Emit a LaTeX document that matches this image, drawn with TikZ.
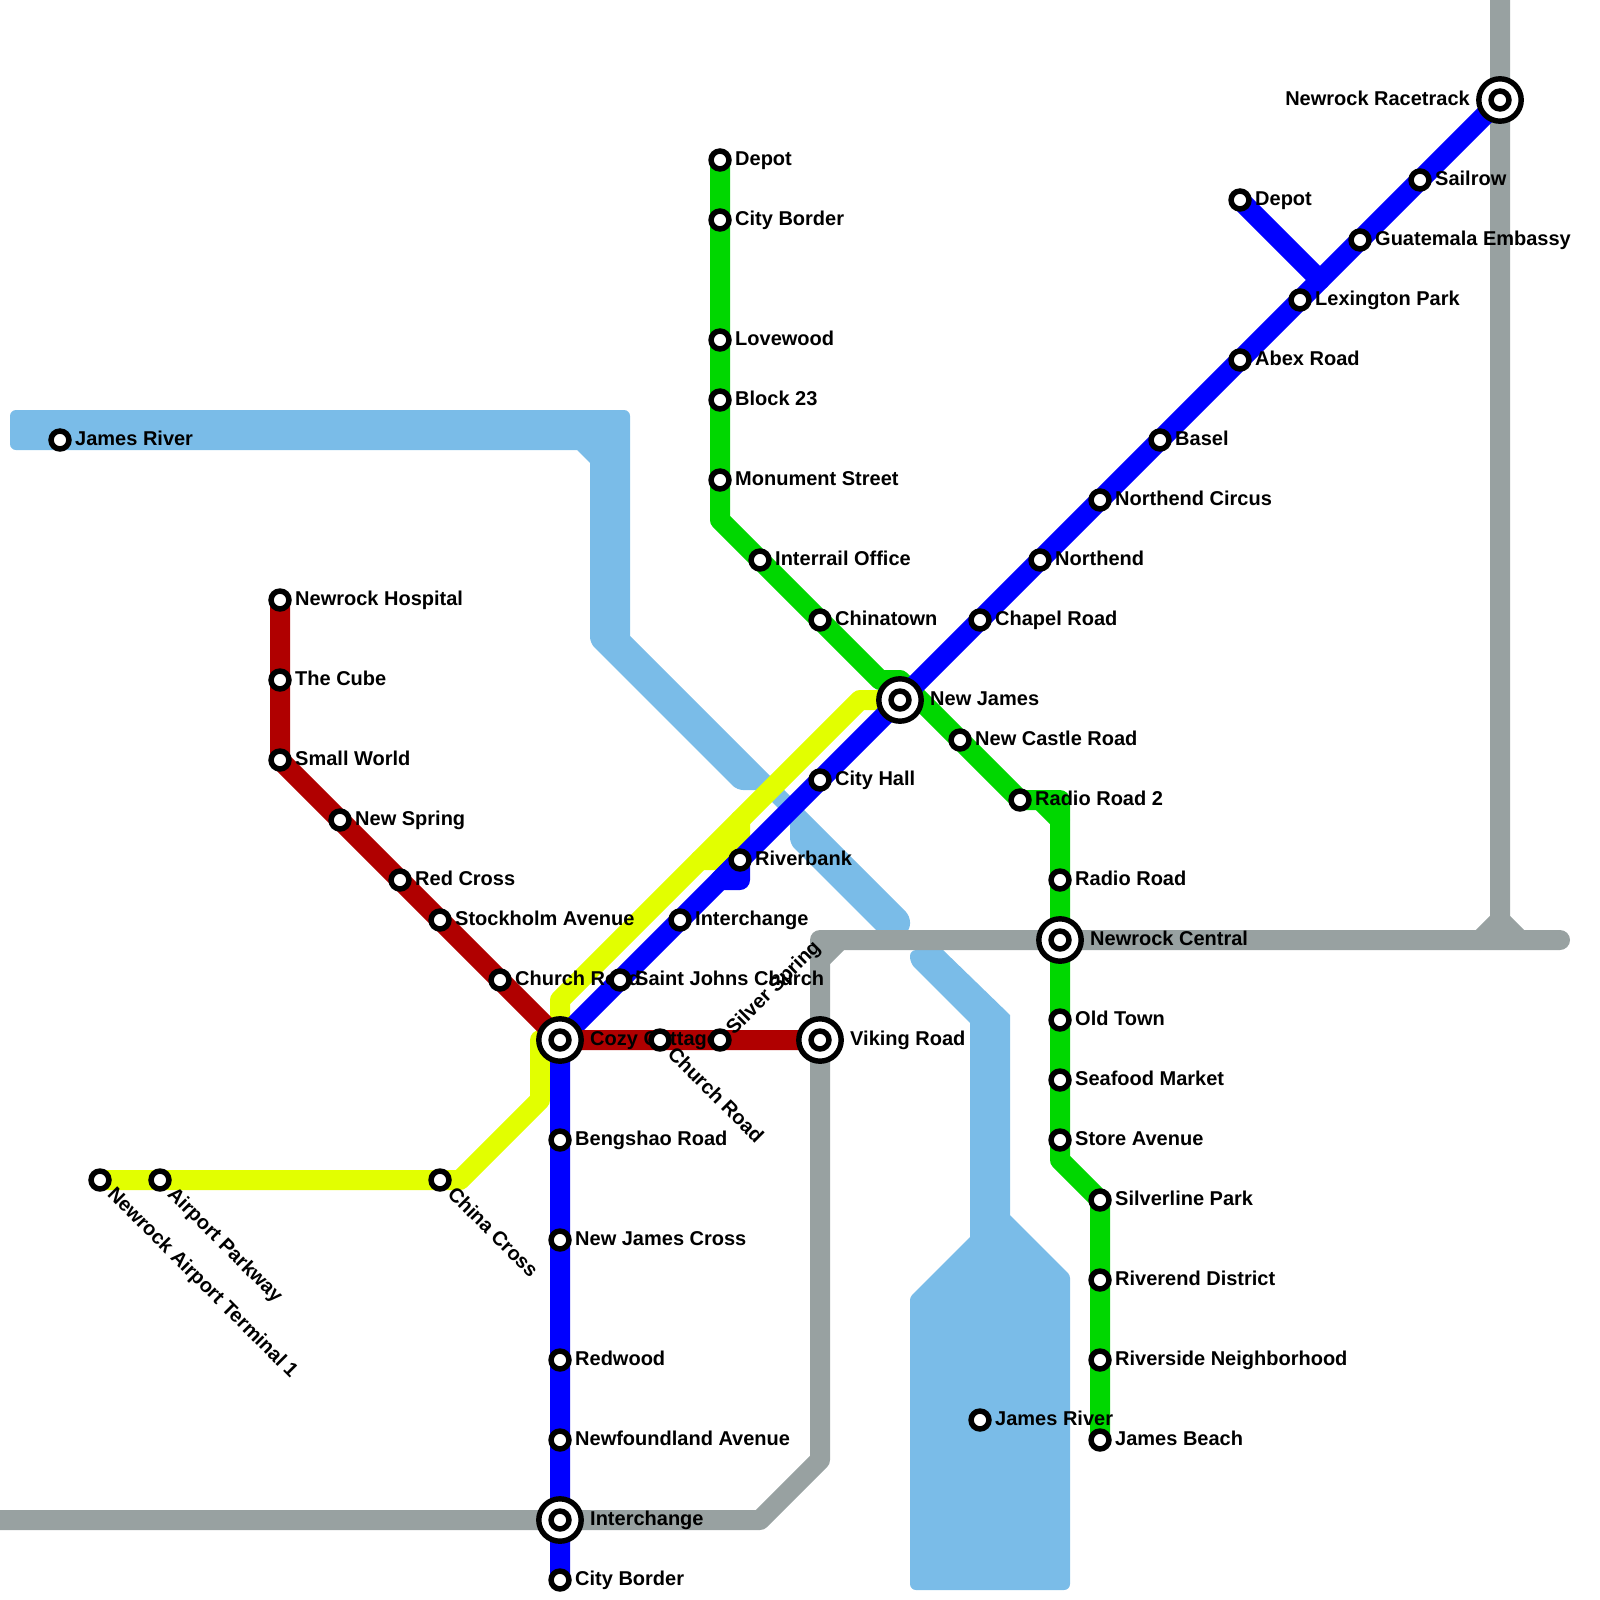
\documentclass[tikz,border=0pt]{standalone}
\usepackage{fontspec}
\setmainfont{Liberation Sans}
\definecolor{cwater}{HTML}{7ABCE8}
\definecolor{cgrey}{HTML}{98A1A1}
\definecolor{cgreen}{HTML}{00D700}
\definecolor{cred}{HTML}{B00000}
\definecolor{cyellow}{HTML}{E2FF00}
\definecolor{cblue}{HTML}{0000FF}
\pgfdeclarelayer{lines}
\pgfdeclarelayer{labels}
\pgfsetlayers{lines,labels,main}
\tikzset{
  x=1pt,y=-1pt,
  stn/.style={circle,draw=black,fill=white,line width=5.5pt,minimum size=17.9pt,inner sep=0pt,outer sep=0pt},
  hub/.style={circle,draw=black,fill=white,line width=5.4pt,minimum size=42.4pt,inner sep=0pt,outer sep=0pt},
  lbl/.style={font=\fontsize{20pt}{21pt}\selectfont\bfseries,text=black,inner sep=0pt,anchor=base west},
  route/.style={line width=20pt,line cap=round,line join=round},
  waterarea/.style={fill=cwater,draw=none},
}
% station with a label to the right: \st{name}{x}{y}{text}
\newcommand{\st}[4]{%
  \node[stn] (#1) at (#2,#3) {};
  \begin{pgfonlayer}{labels}\node[lbl] (#1L) at (#2+15,#3+5.2) {#4};\end{pgfonlayer}}
% interchange with a label to the right
\newcommand{\hb}[4]{%
  \node[hub] (#1H) at (#2,#3) {};
  \node[stn] (#1) at (#2,#3) {};
  \begin{pgfonlayer}{labels}\node[lbl] (#1L) at (#2+30,#3+5.2) {#4};\end{pgfonlayer}}
% station with a rotated label
\newcommand{\stdown}[4]{%
  \node[stn] (#1) at (#2,#3) {};
  \begin{pgfonlayer}{labels}\node[lbl,rotate=-45] (#1L) at (#2+6.5,#3+15) {#4};\end{pgfonlayer}}
\newcommand{\stup}[4]{%
  \node[stn] (#1) at (#2,#3) {};
  \begin{pgfonlayer}{labels}\node[lbl,rotate=45] (#1L) at (#2+14,#3-4.2) {#4};\end{pgfonlayer}}
\begin{document}
\begin{tikzpicture}
\useasboundingbox (0,0) rectangle (1600,1600);
% green
\st{gDepot}{720}{160}{Depot}
\st{gCity}{720}{220}{City Border}
\st{gLove}{720}{340}{Lovewood}
\st{gBlock}{720}{400}{Block 23}
\st{gMon}{720}{480}{Monument Street}
\st{gInter}{760}{560}{Interrail Office}
\st{gChina}{820}{620}{Chinatown}
\st{gCastle}{960}{740}{New Castle Road}
\st{gRadB}{1020}{800}{Radio Road 2}
\st{gRad}{1060}{880}{Radio Road}
\st{gOld}{1060}{1020}{Old Town}
\st{gSea}{1060}{1080}{Seafood Market}
\st{gStore}{1060}{1140}{Store Avenue}
\st{gSilver}{1100}{1200}{Silverline Park}
\st{gRiver}{1100}{1280}{Riverend District}
\st{gSide}{1100}{1360}{Riverside Neighborhood}
\st{gBeach}{1100}{1440}{James Beach}
% blue
\st{bBorder}{560}{1580}{City Border}
\st{bNewf}{560}{1440}{Newfoundland Avenue}
\st{bRed}{560}{1360}{Redwood}
\st{bCross}{560}{1240}{New James Cross}
\st{bBeng}{560}{1140}{Bengshao Road}
\st{bSaint}{620}{980}{Saint Johns Church}
\st{bInter}{680}{920}{Interchange}
\st{bBank}{740}{860}{Riverbank}
\st{bHall}{820}{780}{City Hall}
\st{bChap}{980}{620}{Chapel Road}
\st{bNorth}{1040}{560}{Northend}
\st{bCirc}{1100}{500}{Northend Circus}
\st{bBasel}{1160}{440}{Basel}
\st{bAbex}{1240}{360}{Abex Road}
\st{bLex}{1300}{300}{Lexington Park}
\st{bGuat}{1360}{240}{Guatemala Embassy}
\st{bSail}{1420}{180}{Sailrow}
\st{bDepot}{1240}{200}{Depot}
% red
\st{rHosp}{280}{600}{Newrock Hospital}
\st{rCube}{280}{680}{The Cube}
\st{rWorld}{280}{760}{Small World}
\st{rSpring}{340}{820}{New Spring}
\st{rCross}{400}{880}{Red Cross}
\st{rStock}{440}{920}{Stockholm Avenue}
\st{rChurch}{500}{980}{Church Road}
\stdown{rChurchB}{660}{1040}{Church Road}
\stup{rSilver}{720}{1040}{Silver Spring}
% yellow
\stdown{yTerm}{100}{1180}{Newrock Airport Terminal 1}
\stdown{yPark}{160}{1180}{Airport Parkway}
\stdown{yChina}{440}{1180}{China Cross}
% water stations
\st{wRiverA}{60}{440}{James River}
\st{wRiverB}{980}{1420}{James River}
% interchanges
\hb{hCozy}{560}{1040}{Cozy Cottage}
\hb{hJames}{900}{700}{New James}
\hb{hCentral}{1060}{940}{Newrock Central}
\hb{hViking}{820}{1040}{Viking Road}
\hb{hInter}{560}{1520}{Interchange}
\node[hub] (hRaceH) at (1500,100) {};
\node[stn] (hRace) at (1500,100) {};
\begin{pgfonlayer}{labels}\node[lbl,anchor=base east] (hRaceL) at (1470,105.2) {Newrock Racetrack};\end{pgfonlayer}
% free bend points
\coordinate (gA) at (720,520);
\coordinate (gB) at (880,680);
\coordinate (gC) at (900,680);
\coordinate (gD) at (1040,800);
\coordinate (gE) at (1060,800);
\coordinate (gF) at (1060,820);
\coordinate (gG) at (1060,1160);
\coordinate (eL) at (-15,1520);
\coordinate (eA) at (760,1520);
\coordinate (eB) at (820,1460);
\coordinate (eC) at (820,960);
\coordinate (eD) at (820,940);
\coordinate (eE) at (840,940);
\coordinate (eF) at (1560,940);
\coordinate (eT) at (1500,-15);
\coordinate (eU) at (1500,920);
\coordinate (eV) at (1480,940);
\coordinate (eW) at (1520,940);
\coordinate (bJ) at (1320,280);
\coordinate (bK) at (740,880);
\coordinate (bM) at (720,880);
\coordinate (yA) at (460,1180);
\coordinate (yB) at (540,1100);
\coordinate (yC) at (540,1040);
\coordinate (yD) at (560,1000);
\coordinate (yE) at (860,700);
\coordinate (yF) at (700,860);
\coordinate (yG) at (720,860);
\coordinate (yH) at (740,840);
\coordinate (yI) at (740,820);
\begin{pgfonlayer}{lines}
% water: a corner takes the setting in force on the segment that arrives at it
\fill[waterarea,rounded corners=6pt] (10,430) -- (10,410) -- (630,410) [sharp corners] -- (630,636) [rounded corners=6pt] -- (910,916) -- (910,930) -- (897,940) -- (886,940) -- (790,844) [sharp corners] -- (790,820) -- (760,790) [rounded corners=6pt] -- (737,790) -- (590,643) [sharp corners] -- (590,463) -- (577,450) [rounded corners=6pt] -- (10,450) -- cycle;
\fill[waterarea,sharp corners] (943,950) -- (1010,1015) -- (1010,1215) [rounded corners=3pt] -- (1070,1275) [rounded corners=6pt] -- (1070,1590) -- (910,1590) [rounded corners=3pt] -- (910,1297) [sharp corners] -- (970,1237) -- (970,1023) [rounded corners=6pt] -- (910,963) -- (910,950) [sharp corners] -- cycle;
% grey
\draw[route,cgrey] (eL) -- (hInter.center) -- (eA) -- (eB) -- (hViking.center) -- (eC) -- (eD) -- (eE) -- (hCentral.center) -- (eF);
\draw[route,cgrey] (eC) -- (eE);
\draw[route,cgrey] (eT) -- (hRace.center) -- (eU) -- (eV);
\draw[route,cgrey] (eU) -- (eW);
% yellow
\draw[route,cyellow] (yTerm.center) -- (yPark.center) -- (yChina.center) -- (yA) -- (yB) -- (yC) -- (hCozy.center) -- (yD) -- (yE) -- (hJames.center);
\draw[route,cyellow] (yF) -- (yG) -- (yH) -- (yI);
% green
\draw[route,cgreen] (gDepot.center) -- (gCity.center) -- (gLove.center) -- (gBlock.center) -- (gMon.center) -- (gA) -- (gInter.center) -- (gChina.center) -- (gB) -- (gC) -- (gCastle.center) -- (gRadB.center) -- (gE) -- (gF) -- (gRad.center) -- (hCentral.center) -- (gOld.center) -- (gSea.center) -- (gStore.center) -- (gG) -- (gSilver.center) -- (gRiver.center) -- (gSide.center) -- (gBeach.center);
\draw[route,cgreen] (gD) -- (gF);
% blue
\draw[route,cblue] (bBorder.center) -- (hInter.center) -- (bNewf.center) -- (bRed.center) -- (bCross.center) -- (bBeng.center) -- (hCozy.center) -- (bSaint.center) -- (bInter.center) -- (bBank.center) -- (bHall.center) -- (hJames.center) -- (bChap.center) -- (bNorth.center) -- (bCirc.center) -- (bBasel.center) -- (bAbex.center) -- (bLex.center) -- (bGuat.center) -- (bSail.center) -- (hRace.center);
\draw[route,cblue] (bDepot.center) -- (bJ);
\draw[route,cblue] (bBank.center) -- (bK) -- (bM) -- cycle;
% red
\draw[route,cred] (rHosp.center) -- (rCube.center) -- (rWorld.center) -- (rSpring.center) -- (rCross.center) -- (rStock.center) -- (rChurch.center) -- (hCozy.center) -- (rChurchB.center) -- (rSilver.center) -- (hViking.center);
\end{pgfonlayer}
\end{tikzpicture}
\end{document}
